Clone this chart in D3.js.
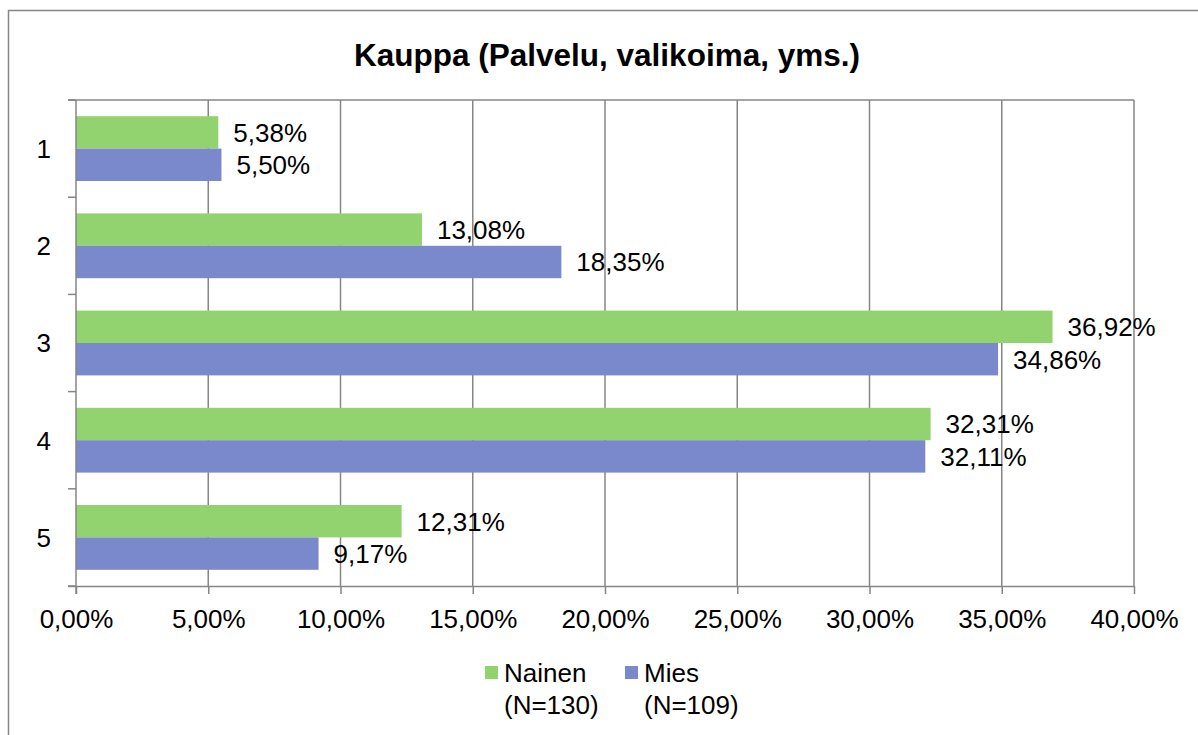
<!DOCTYPE html>
<html>
<head>
<meta charset="utf-8">
<script src="https://cdn.jsdelivr.net/npm/d3@7"></script>
<style>
  html, body { margin: 0; padding: 0; background: #fff; }
  svg { display: block; font-family: "Liberation Sans", Arial, sans-serif; }
</style>
</head>
<body>
<svg id="chart" width="1198" height="735"></svg>
<script>
// Response shares by rating (1–5), split by gender
const categories = ["1", "2", "3", "4", "5"];
const nainenValues = [5.38, 13.08, 36.92, 32.31, 12.31];
const miesValues = [5.50, 18.35, 34.86, 32.11, 9.17];
const seriesNames = ["Nainen", "Mies"];
const seriesCounts = ["(N=130)", "(N=109)"];
const seriesColors = ["#92d26f", "#7a89cc"];
const xTicks = [0, 5, 10, 15, 20, 25, 30, 35, 40];
const chartTitle = "Kauppa (Palvelu, valikoima, yms.)";

const fi = d3.formatLocale({ decimal: ",", thousands: " ", grouping: [3], currency: ["", " €"] });
const pct = fi.format(".2%");

const svg = d3.select("#chart");
const gridColor = "#868686";

// Outer chart frame (runs past the right and bottom edges)
svg.append("path")
  .attr("d", "M8.5,740 V10.5 H1210")
  .attr("fill", "none")
  .attr("stroke", gridColor)
  .attr("stroke-width", 1.5);

const plot = { left: 76, right: 1134, top: 100, bottom: 586 };

const x = d3.scaleLinear().domain([0, 40]).range([plot.left, plot.right]);
const y = d3.scaleBand().domain(categories)
  .range([plot.top, plot.bottom])
  .paddingInner(1 / 3).paddingOuter(1 / 6);
const ySub = d3.scaleBand().domain(seriesNames).range([0, y.bandwidth()]);

// Vertical gridlines
svg.append("g").selectAll("line")
  .data(xTicks.slice(1))
  .join("line")
  .attr("x1", d => x(d)).attr("x2", d => x(d))
  .attr("y1", plot.top).attr("y2", plot.bottom)
  .attr("stroke", gridColor).attr("stroke-width", 1.5);

// Top border of plot area
svg.append("line")
  .attr("x1", plot.left - 8).attr("x2", plot.right)
  .attr("y1", plot.top).attr("y2", plot.top)
  .attr("stroke", gridColor).attr("stroke-width", 1.5);

// Bars
const rows = categories.map((c, i) => ({ cat: c, values: [nainenValues[i], miesValues[i]] }));
const groups = svg.append("g").selectAll("g")
  .data(rows)
  .join("g")
  .attr("transform", d => `translate(0,${y(d.cat)})`);

groups.selectAll("rect")
  .data(d => d.values.map((v, k) => ({ v, s: seriesNames[k], k })))
  .join("rect")
  .attr("x", x(0))
  .attr("y", d => ySub(d.s))
  .attr("width", d => x(d.v) - x(0))
  .attr("height", ySub.bandwidth())
  .attr("fill", d => seriesColors[d.k]);

groups.selectAll("text")
  .data(d => d.values.map((v, k) => ({ v, s: seriesNames[k], k })))
  .join("text")
  .attr("x", d => x(d.v) + 15)
  .attr("y", d => ySub(d.s) + ySub.bandwidth() / 2)
  .attr("dy", "0.36em")
  .attr("font-size", 26)
  .attr("fill", "#000")
  .text(d => pct(d.v / 100));

// Value axis (bottom)
const xAxis = d3.axisBottom(x)
  .tickValues(xTicks)
  .tickSize(8)
  .tickPadding(8)
  .tickFormat(d => pct(d / 100));
const gx = svg.append("g")
  .attr("transform", `translate(0,${plot.bottom})`)
  .call(xAxis);
gx.select(".domain").attr("stroke", gridColor).attr("stroke-width", 1.5)
  .attr("d", `M${plot.left - 8},0.5H${plot.right}`);
gx.selectAll(".tick line").attr("stroke", gridColor).attr("stroke-width", 1.5);
gx.selectAll(".tick text")
  .attr("font-size", 26)
  .attr("font-family", "Liberation Sans, Arial, sans-serif")
  .attr("fill", "#000")
  .attr("dy", null)
  .attr("y", 42);

// Category axis (left)
const boundaries = categories.map(c => y(c) - y.step() * y.paddingInner() / 2).concat([plot.bottom]);
svg.append("line")
  .attr("x1", plot.left).attr("x2", plot.left)
  .attr("y1", plot.top).attr("y2", plot.bottom + 8)
  .attr("stroke", gridColor).attr("stroke-width", 1.5);
svg.append("g").selectAll("line")
  .data(boundaries)
  .join("line")
  .attr("x1", plot.left - 8).attr("x2", plot.left)
  .attr("y1", d => d).attr("y2", d => d)
  .attr("stroke", gridColor).attr("stroke-width", 1.5);
svg.append("g").selectAll("text")
  .data(categories)
  .join("text")
  .attr("x", 51)
  .attr("y", d => y(d) + y.bandwidth() / 2)
  .attr("dy", "0.36em")
  .attr("text-anchor", "end")
  .attr("font-size", 26)
  .text(d => d);

// Title
svg.append("text")
  .attr("x", 607).attr("y", 66)
  .attr("text-anchor", "middle")
  .attr("font-size", 31.5)
  .attr("font-weight", "bold")
  .text(chartTitle);

// Legend
const legendX = [485, 625];
const legend = svg.append("g").selectAll("g")
  .data(seriesNames)
  .join("g")
  .attr("transform", (d, i) => `translate(${legendX[i]},0)`);
legend.append("rect")
  .attr("x", 0).attr("y", 666)
  .attr("width", 13).attr("height", 13)
  .attr("fill", (d, i) => seriesColors[i]);
legend.append("text")
  .attr("x", 19).attr("y", 682)
  .attr("font-size", 26)
  .text(d => d);
legend.append("text")
  .attr("x", 19).attr("y", 714)
  .attr("font-size", 26)
  .text((d, i) => seriesCounts[i]);
</script>
</body>
</html>
